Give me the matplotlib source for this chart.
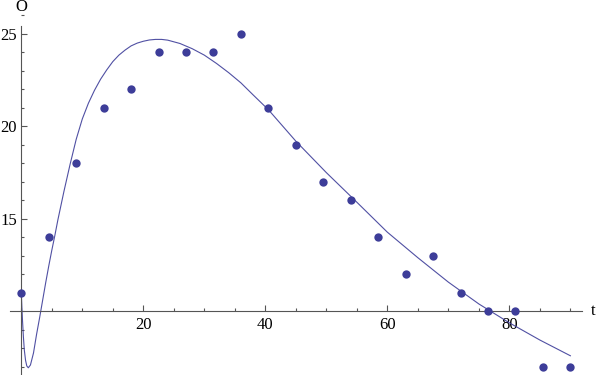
import numpy as np
import matplotlib
matplotlib.use('Agg')
import matplotlib.pyplot as plt
from matplotlib.ticker import MultipleLocator, FixedLocator

# Measured points
t_data = [0, 4.5, 9, 13.5, 18, 22.5, 27, 31.5, 36, 40.5, 45,
          49.5, 54, 58.5, 63, 67.5, 72, 76.5, 81, 85.5, 90]
o_data = [11, 14, 18, 21, 22, 24, 24, 24, 25, 21, 19,
          17, 16, 14, 12, 13, 11, 10, 10, 7, 7]

# Fitted curve
t_fit = [0, 0.1, 0.2, 0.35, 0.5, 0.7, 0.9, 1.15, 1.5, 2.0, 2.5, 3.0,
         3.5, 4.0, 4.5, 5.0, 5.5, 6.0, 7.0, 8.0, 9.0, 10, 11, 12, 13,
         14, 15, 16, 17, 18, 19, 20, 21, 22, 23, 24, 26, 28, 30, 32,
         34, 36, 38, 40.5, 45, 50, 55, 60, 65, 70, 75, 80, 85, 90]
o_fit = [11, 10.2, 9.5, 8.6, 7.9, 7.35, 7.05, 6.95, 7.1, 7.75, 8.75, 9.65,
         10.6, 11.55, 12.45, 13.3, 14.1, 14.95, 16.5, 17.95, 19.3, 20.4,
         21.25, 21.95, 22.55, 23.05, 23.5, 23.85, 24.12, 24.35, 24.5,
         24.6, 24.67, 24.7, 24.7, 24.66, 24.48, 24.2, 23.85, 23.4, 22.9,
         22.35, 21.7, 20.9, 19.2, 17.5, 15.9, 14.28, 12.9, 11.58,
         10.4, 9.38, 8.45, 7.6]

x_major = [20, 40, 60, 80]
y_major = [15, 20, 25]

plt.rcParams['font.family'] = 'serif'
plt.rcParams['font.serif'] = ['Liberation Serif', 'DejaVu Serif']

blue = '#3d3d99'
axis_col = '#555555'

fig = plt.figure(figsize=(5.96, 3.75), dpi=100)
ax = fig.add_axes([0, 0, 1, 1])
ax.patch.set_alpha(0)

ax.plot(t_fit, o_fit, color=blue, lw=0.8, alpha=0.9, zorder=2,
        solid_joinstyle='round')
ax.plot(t_data, o_data, 'o', color=blue, ms=6, mec='none', zorder=3)

ax.set_xlim(-3.49, 94.2)
ax.set_ylim(6.56, 26.83)

# Mathematica style crossing axes at (0, 10)
ax.spines['top'].set_visible(False)
ax.spines['right'].set_visible(False)
ax.spines['left'].set_position(('data', 0))
ax.spines['bottom'].set_position(('data', 10))
ax.spines['left'].set_bounds(6.56, 25.43)
ax.spines['bottom'].set_bounds(-1.85, 91.9)
for s in ['left', 'bottom']:
    ax.spines[s].set_color(axis_col)
    ax.spines[s].set_linewidth(0.8)

ax.xaxis.set_major_locator(FixedLocator(x_major))
ax.xaxis.set_minor_locator(MultipleLocator(5))
ax.yaxis.set_major_locator(FixedLocator(y_major))
ax.yaxis.set_minor_locator(MultipleLocator(1))

ax.tick_params(which='both', direction='in', color=axis_col, width=0.8,
               labelsize=12, labelcolor='black')
ax.tick_params(which='major', length=4)
ax.tick_params(which='minor', length=2.5)
ax.tick_params(axis='x', pad=4)
ax.tick_params(axis='y', pad=3)

ax.text(0, 26.45, 'O', fontsize=12, ha='center', va='center')
ax.text(93.8, 10, 't', fontsize=12, ha='center', va='center')

fig.savefig('out.png', dpi=100)
